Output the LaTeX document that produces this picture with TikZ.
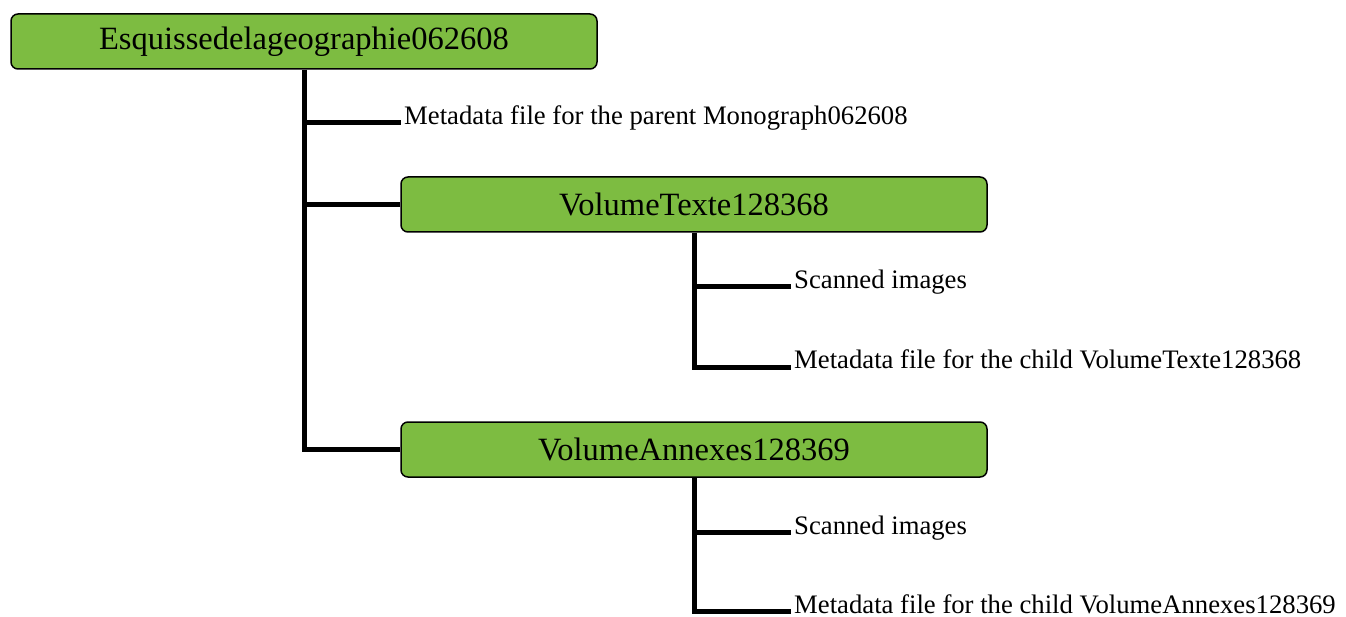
\documentclass[tikz,border=0pt]{standalone}
\usepackage{fontspec}
\setmainfont{Liberation Serif}
\usepackage{tikz}
\usetikzlibrary{positioning}
\definecolor{leafgreen}{RGB}{125,188,65}
\tikzset{
  folder/.style={draw=black, fill=leafgreen, line width=1.5pt, rounded corners=7pt,
    minimum width=586pt, minimum height=55pt, inner sep=0pt,
    font=\fontsize{32.5}{38}\selectfont},
  leaf/.style={anchor=base west, inner sep=0pt, font=\fontsize{26.7}{32}\selectfont},
  link/.style={draw=black, line width=5pt}
}
\begin{document}
\begin{tikzpicture}[x=1pt,y=-1pt]
                \useasboundingbox (0,0) rectangle (1346,617);
                % boxes
                \node[folder] (root) at (304,41.5) {Esquissedelageographie062608};
                \node[folder] (volT) at (694,204.5) {VolumeTexte128368};
                \node[folder] (volA) at (694,449.5) {VolumeAnnexes128369};
                % branch ends
                \coordinate (m0) at (401,123);
                \coordinate (t1) at (791,287);
                \coordinate (t2) at (791,367);
                \coordinate (a1) at (791,532);
                \coordinate (a2) at (791,611);
                % labels
                \node[leaf] (meta0) at ([xshift=3pt,yshift=-2pt]m0) {Metadata file for the parent Monograph062608};
                \node[leaf] (scanT) at ([xshift=3pt,yshift=-2pt]t1) {Scanned images};
                \node[leaf] (metaT) at ([xshift=3pt,yshift=-2pt]t2) {Metadata file for the child VolumeTexte128368};
                \node[leaf] (scanA) at ([xshift=3pt,yshift=-2pt]a1) {Scanned images};
                \node[leaf] (metaA) at ([xshift=3pt,yshift=-2pt]a2) {Metadata file for the child VolumeAnnexes128369};
                % connectors
                \draw[link] (root.south) |- (volA.west);
                \draw[link] (root.south |- m0) -- (m0);
                \draw[link] (root.south |- volT.west) -- (volT.west);
                \draw[link] (volT.south) |- (t2);
                \draw[link] (volT.south |- t1) -- (t1);
                \draw[link] (volA.south) |- (a2);
                \draw[link] (volA.south |- a1) -- (a1);
\end{tikzpicture}
\end{document}
